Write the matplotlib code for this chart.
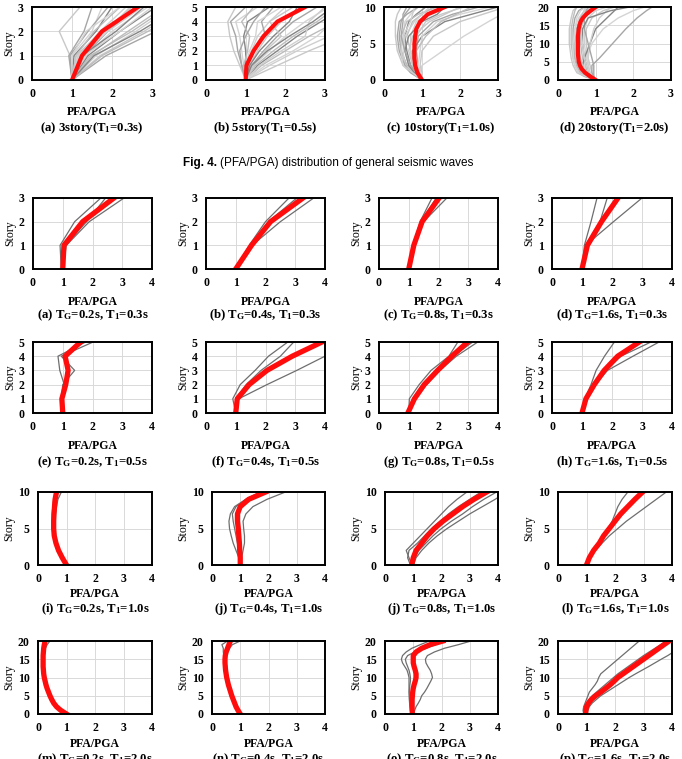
import matplotlib
matplotlib.use('Agg')
import matplotlib.pyplot as plt

# ---- data: Fig. 4 (general seismic waves), PFA/PGA per story ----
S3 = [0, 1, 2, 3]
S5 = [0, 1, 2, 3, 4, 5]
S10 = list(range(11))
S20 = list(range(21))
TOP_C_RUN_STORY = [0, 1, 2, 4, 6, 8, 9, 10]
TOP_D_RUN_STORY = [0, 1, 2, 4, 6, 10, 14, 17, 19, 20]

TOP_A_MEAN = [1.0, 1.25, 1.75, 2.65]
TOP_A_RUNS = [
    [1.0, 0.95, 0.68, 1.2], [1.0, 0.92, 1.3, 1.5], [1.0, 1.0, 1.5, 1.75],
    [1.0, 1.05, 1.6, 2.0], [1.0, 1.1, 1.55, 2.2], [1.0, 1.15, 1.7, 2.35],
    [1.0, 1.2, 1.8, 2.5], [1.0, 1.3, 1.9, 2.6], [1.0, 1.35, 2.0, 2.9],
    [1.0, 1.4, 2.2, 3.1], [1.0, 1.5, 2.4, 3.3], [1.0, 1.6, 2.6, 3.5],
    [1.0, 1.7, 2.8, 3.8], [1.0, 1.85, 3.1, 4.2], [1.0, 1.3, 2.2, 3.0],
    [1.0, 1.25, 2.1, 2.8], [1.0, 1.45, 2.5, 3.4], [1.0, 1.2, 1.9, 2.75],
    [1.0, 1.1, 1.75, 2.6], [1.0, 0.95, 1.4, 1.9], [1.0, 1.0, 1.35, 2.2],
    [1.0, 1.55, 2.7, 3.7], [1.0, 1.75, 2.9, 4.0], [1.0, 1.15, 1.85, 2.45],
]

TOP_B_MEAN = [1.0, 1.02, 1.2, 1.45, 1.8, 2.5]
TOP_B_RUNS = [
    [1.0, 0.85, 0.7, 0.6, 0.55, 0.75], [1.0, 0.9, 0.8, 0.75, 0.62, 1.0],
    [1.0, 0.95, 0.9, 0.85, 0.75, 1.3], [1.0, 1.0, 1.0, 0.95, 1.05, 1.6],
    [1.0, 0.95, 1.05, 1.1, 0.9, 1.2], [1.0, 1.05, 1.15, 1.3, 1.6, 2.0],
    [1.0, 1.1, 1.3, 1.55, 1.9, 2.4], [1.0, 1.15, 1.45, 1.8, 2.2, 2.8],
    [1.0, 1.2, 1.6, 2.0, 2.5, 3.1], [1.0, 1.3, 1.8, 2.3, 2.9, 3.5],
    [1.0, 1.4, 2.0, 2.6, 3.3, 4.0], [1.0, 1.6, 2.3, 3.1, 3.8, 4.5],
    [1.0, 1.8, 2.6, 3.5, 4.3, 5.0], [1.0, 1.05, 1.2, 1.5, 1.4, 1.7],
    [1.0, 1.0, 1.1, 1.25, 1.3, 1.9], [1.0, 1.1, 1.35, 1.7, 2.1, 2.3],
    [1.0, 1.25, 1.7, 2.2, 2.8, 3.3], [1.0, 1.35, 1.9, 2.5, 2.6, 3.0],
    [1.0, 1.2, 1.5, 1.9, 1.6, 2.2], [1.0, 0.9, 0.85, 1.0, 1.2, 1.5],
    [1.0, 1.5, 2.2, 2.8, 3.2, 3.6], [1.0, 1.15, 1.55, 2.1, 2.7, 3.2],
]

TOP_C_MEAN = [1.0, 0.88, 0.82, 0.8, 0.8, 0.8, 0.82, 0.85, 0.95, 1.15, 1.6]
TOP_C_RUNS = [
    [1.0, 0.7, 0.5, 0.35, 0.3, 0.3, 0.35, 0.45], [1.0, 0.75, 0.6, 0.45, 0.4, 0.45, 0.55, 0.7],
    [1.0, 0.8, 0.65, 0.55, 0.5, 0.55, 0.7, 0.9], [1.0, 0.85, 0.7, 0.6, 0.55, 0.65, 0.85, 1.1],
    [1.0, 0.9, 0.8, 0.7, 0.6, 0.75, 1.0, 1.3], [1.0, 0.85, 0.75, 0.7, 0.7, 0.85, 1.2, 1.7],
    [1.0, 0.9, 0.85, 0.8, 0.85, 1.1, 1.5, 2.1], [1.0, 0.95, 0.9, 0.85, 0.9, 1.3, 1.8, 2.5],
    [1.0, 0.95, 1.0, 1.55, 2.1, 2.75, 3.1, 3.4], [1.0, 0.9, 0.8, 0.75, 1.0, 1.6, 2.3, 3.0],
    [1.0, 0.8, 0.6, 0.45, 0.45, 0.6, 0.9, 1.4], [1.0, 0.85, 0.55, 0.5, 0.55, 0.8, 1.0, 1.2],
    [1.0, 0.9, 0.75, 0.65, 0.75, 1.2, 1.6, 2.0], [1.0, 0.7, 0.55, 0.4, 0.35, 0.4, 0.6, 0.9],
    [1.0, 0.95, 0.9, 0.95, 1.0, 1.4, 2.0, 2.8], [1.0, 0.8, 0.65, 0.55, 0.65, 1.0, 1.4, 1.6],
    [1.0, 0.85, 0.8, 0.85, 1.1, 1.5, 1.9, 2.3], [1.0, 0.75, 0.5, 0.45, 0.5, 0.7, 0.75, 0.8],
    [1.0, 1.0, 0.95, 1.0, 1.3, 2.0, 2.6, 3.2], [1.0, 0.85, 0.7, 0.55, 0.45, 0.5, 0.5, 0.6],
]

TOP_D_MEAN = [1.0, 0.85, 0.72, 0.63, 0.58, 0.55, 0.54, 0.53, 0.53, 0.53, 0.53,
              0.53, 0.53, 0.54, 0.55, 0.57, 0.6, 0.66, 0.75, 0.87, 1.0]
TOP_D_RUNS = [
    [1.0, 0.7, 0.5, 0.4, 0.35, 0.3, 0.3, 0.35, 0.4, 0.5],
    [1.0, 0.75, 0.6, 0.5, 0.45, 0.4, 0.4, 0.45, 0.55, 0.7],
    [1.0, 0.8, 0.65, 0.55, 0.5, 0.45, 0.45, 0.55, 0.7, 0.9],
    [1.0, 0.85, 0.7, 0.6, 0.55, 0.5, 0.5, 0.6, 0.8, 1.0],
    [1.0, 0.9, 0.8, 0.7, 0.65, 0.6, 0.6, 0.7, 0.9, 1.1],
    [1.0, 0.9, 0.85, 0.8, 0.75, 0.7, 0.7, 0.8, 1.0, 1.3],
    [1.0, 0.95, 0.9, 0.85, 0.8, 0.75, 0.75, 0.9, 1.2, 1.5],
    [1.0, 0.95, 0.9, 0.9, 1.1, 1.45, 1.8, 2.1, 2.35, 2.5],
    [1.0, 0.85, 0.75, 0.7, 0.75, 0.9, 1.2, 1.6, 2.0, 2.3],
    [1.0, 0.8, 0.7, 0.65, 0.7, 0.85, 1.0, 1.3, 1.5, 1.6],
    [1.0, 0.7, 0.55, 0.45, 0.4, 0.35, 0.35, 0.4, 0.45, 0.5],
    [1.0, 0.9, 0.85, 0.8, 0.8, 0.85, 0.95, 1.1, 1.3, 1.4],
    [1.0, 0.85, 0.75, 0.65, 0.6, 0.55, 0.55, 0.6, 0.75, 0.85],
    [1.0, 0.95, 0.95, 0.95, 0.9, 0.8, 0.7, 0.7, 0.75, 0.8],
    [1.0, 0.75, 0.55, 0.45, 0.4, 0.4, 0.45, 0.5, 0.6, 0.75],
    [1.0, 0.9, 0.8, 0.75, 0.7, 0.65, 0.65, 0.8, 1.4, 1.9],
    [1.0, 0.8, 0.6, 0.5, 0.45, 0.45, 0.5, 0.6, 0.7, 0.75],
    [1.0, 0.85, 0.8, 0.75, 0.7, 0.65, 0.6, 0.65, 0.7, 0.75],
]

TOP_CAPTIONS = ['(a) 3story(T$_1$=0.3s)', '(b) 5story(T$_1$=0.5s)',
                '(c) 10story(T$_1$=1.0s)', '(d) 20story(T$_1$=2.0s)']

# ---- data: grid of T_G / T_1 cases ----
G_A_MEAN = [1.0, 1.04, 1.67, 2.72]
G_A_RUNS = [[0.95, 0.91, 1.4, 2.28], [1.0, 1.08, 1.8, 2.44], [1.0, 1.12, 1.89, 3.06]]
G_B_MEAN = [1.0, 1.53, 2.17, 3.26]
G_B_RUNS = [[1.0, 1.45, 2.0, 2.79], [1.0, 1.5, 2.1, 3.05], [1.0, 1.55, 2.5, 3.62]]
G_C_MEAN = [1.0, 1.17, 1.45, 2.02]
G_C_RUNS = [[1.0, 1.15, 1.38, 1.78], [1.0, 1.18, 1.42, 1.92], [1.0, 1.15, 1.5, 2.28]]
G_D_MEAN = [1.0, 1.18, 1.65, 2.2]
G_D_RUNS = [[1.0, 1.08, 1.3, 1.5], [1.0, 1.12, 1.6, 1.84], [1.0, 1.12, 2.05, 3.0]]

G_E_MEAN = [1.0, 0.97, 1.1, 1.18, 1.08, 1.6]
G_E_RUNS = [[1.0, 0.95, 1.0, 1.4, 0.95, 2.02], [1.0, 0.95, 1.05, 0.9, 0.84, 1.77],
            [1.0, 0.98, 1.1, 1.15, 1.1, 1.7]]
G_F_MEAN = [1.0, 1.05, 1.45, 2.05, 2.9, 3.9]
G_F_RUNS = [[1.0, 0.9, 1.15, 1.65, 2.1, 2.75], [1.0, 1.0, 1.35, 1.85, 2.5, 2.95],
            [1.0, 1.1, 2.05, 3.05, 4.0, 5.0]]
G_G_MEAN = [0.97, 1.19, 1.52, 1.97, 2.45, 2.98]
G_G_RUNS = [[1.0, 1.02, 1.35, 1.75, 2.35, 2.65], [1.0, 1.2, 1.55, 2.0, 2.5, 3.15],
            [1.0, 1.22, 1.6, 2.05, 2.6, 3.32]]
G_H_MEAN = [1.0, 1.13, 1.41, 1.74, 2.19, 2.91]
G_H_RUNS = [[1.0, 1.1, 1.3, 1.47, 1.75, 2.08], [1.0, 1.12, 1.42, 1.8, 2.3, 3.3],
            [1.0, 1.13, 1.45, 1.85, 2.7, 3.57]]

G_I_MEAN = [1.0, 0.85, 0.72, 0.63, 0.57, 0.55, 0.55, 0.56, 0.58, 0.6, 0.65]
G_I_RUNS = [[1.0, 0.87, 0.76, 0.67, 0.62, 0.6, 0.6, 0.62, 0.65, 0.7, 0.82],
            [1.0, 0.83, 0.7, 0.6, 0.53, 0.5, 0.5, 0.5, 0.52, 0.55, 0.6]]
G_J_MEAN = [1.0, 1.0, 0.98, 0.97, 0.95, 0.93, 0.9, 0.9, 1.0, 1.3, 1.9]
G_J_RUNS = [[1.0, 0.95, 0.85, 0.75, 0.68, 0.62, 0.6, 0.65, 0.8, 1.2, 1.7],
            [1.0, 1.05, 1.1, 1.15, 1.15, 1.12, 1.1, 1.2, 1.45, 1.95, 2.6],
            [1.0, 1.0, 0.95, 0.9, 0.85, 0.8, 0.75, 0.72, 0.85, 1.2, 1.75]]
G_K_MEAN = [0.95, 1.0, 1.1, 1.3, 1.5, 1.75, 2.05, 2.4, 2.75, 3.15, 3.6]
G_K_RUNS = [[0.95, 0.85, 0.75, 1.0, 1.25, 1.5, 1.75, 2.0, 2.25, 2.55, 2.9],
            [1.0, 1.05, 1.2, 1.45, 1.7, 2.0, 2.35, 2.75, 3.1, 3.5, 3.95],
            [1.0, 1.1, 1.3, 1.55, 1.85, 2.2, 2.6, 3.0, 3.45, 3.9, 4.3],
            [0.9, 0.8, 0.85, 1.15, 1.4, 1.65, 1.95, 2.25, 2.6, 3.0, 3.4]]
G_L_MEAN = [1.0, 1.1, 1.25, 1.45, 1.6, 1.8, 2.0, 2.2, 2.45, 2.7, 2.97]
G_L_RUNS = [[1.0, 1.1, 1.25, 1.45, 1.6, 1.75, 1.9, 2.0, 2.1, 2.25, 2.45],
            [1.0, 1.1, 1.3, 1.55, 1.8, 2.1, 2.4, 2.75, 3.1, 3.45, 3.8],
            [1.0, 1.12, 1.28, 1.48, 1.65, 1.85, 2.05, 2.28, 2.5, 2.75, 3.05]]

G_M_MEAN = [1.0, 0.8, 0.65, 0.55, 0.48, 0.42, 0.37, 0.32, 0.28, 0.25, 0.22,
            0.2, 0.19, 0.18, 0.18, 0.18, 0.18, 0.19, 0.2, 0.22, 0.25]
G_M_RUNS = [[1.0, 0.82, 0.68, 0.58, 0.5, 0.44, 0.39, 0.34, 0.3, 0.27, 0.24,
             0.22, 0.21, 0.2, 0.2, 0.2, 0.21, 0.23, 0.26, 0.32, 0.42]]
G_N_MEAN = [1.0, 0.92, 0.85, 0.8, 0.75, 0.7, 0.66, 0.62, 0.58, 0.55, 0.52,
            0.5, 0.48, 0.47, 0.46, 0.46, 0.47, 0.5, 0.55, 0.6, 0.65]
G_N_RUNS = [[1.0, 0.93, 0.86, 0.8, 0.75, 0.7, 0.65, 0.6, 0.56, 0.53, 0.5,
             0.48, 0.46, 0.45, 0.44, 0.43, 0.42, 0.4, 0.4, 0.35, 0.55],
            [1.0, 0.92, 0.86, 0.81, 0.77, 0.73, 0.69, 0.65, 0.61, 0.58, 0.55,
             0.53, 0.51, 0.5, 0.5, 0.5, 0.52, 0.56, 0.62, 0.72, 1.0]]
G_O_MEAN = [0.97, 0.96, 0.96, 0.96, 0.96, 0.97, 0.98, 1.0, 1.03, 1.07, 1.1,
            1.1, 1.07, 1.03, 1.0, 1.0, 1.0, 1.1, 1.3, 1.6, 2.05]
G_O_RUNS = [[1.0, 1.05, 1.1, 1.18, 1.25, 1.3, 1.4, 1.48, 1.55, 1.62, 1.68,
             1.65, 1.6, 1.52, 1.45, 1.43, 1.5, 1.75, 2.1, 2.6, 3.05],
            [1.0, 0.95, 0.9, 0.88, 0.87, 0.86, 0.85, 0.85, 0.85, 0.85, 0.85,
             0.82, 0.78, 0.7, 0.62, 0.58, 0.62, 0.75, 0.95, 1.25, 1.57],
            [0.95, 0.9, 0.88, 0.87, 0.86, 0.86, 0.86, 0.87, 0.88, 0.9, 0.9,
             0.88, 0.85, 0.8, 0.75, 0.72, 0.8, 1.05, 1.45, 1.8, 2.0]]
G_P_MEAN = [0.97, 0.98, 1.0, 1.07, 1.17, 1.32, 1.5, 1.67, 1.83, 1.97, 2.1,
            2.28, 2.46, 2.64, 2.82, 3.0, 3.18, 3.36, 3.54, 3.72, 3.9]
G_P_RUNS = [[0.9, 0.88, 0.9, 0.95, 1.0, 1.05, 1.1, 1.2, 1.3, 1.38, 1.43,
             1.5, 1.65, 1.8, 1.95, 2.1, 2.25, 2.4, 2.55, 2.7, 2.85],
            [1.0, 1.05, 1.1, 1.2, 1.35, 1.5, 1.7, 1.9, 2.1, 2.3, 2.5,
             2.72, 2.95, 3.18, 3.4, 3.62, 3.85, 4.05, 4.25, 4.45, 4.65],
            [0.95, 0.9, 0.92, 1.0, 1.1, 1.2, 1.35, 1.5, 1.65, 1.8, 1.95,
             2.1, 2.28, 2.46, 2.64, 2.82, 3.0, 3.2, 3.4, 3.6, 3.8]]

GRID_CAPTIONS = [
    '(a) T$_G$=0.2s, T$_1$=0.3s', '(b) T$_G$=0.4s, T$_1$=0.3s',
    '(c) T$_G$=0.8s, T$_1$=0.3s', '(d) T$_G$=1.6s, T$_1$=0.3s',
    '(e) T$_G$=0.2s, T$_1$=0.5s', '(f) T$_G$=0.4s, T$_1$=0.5s',
    '(g) T$_G$=0.8s, T$_1$=0.5s', '(h) T$_G$=1.6s, T$_1$=0.5s',
    '(i) T$_G$=0.2s, T$_1$=1.0s', '(j) T$_G$=0.4s, T$_1$=1.0s',
    '(j) T$_G$=0.8s, T$_1$=1.0s', '(l) T$_G$=1.6s, T$_1$=1.0s',
    '(m) T$_G$=0.2s, T$_1$=2.0s', '(n) T$_G$=0.4s, T$_1$=2.0s',
    '(o) T$_G$=0.8s, T$_1$=2.0s', '(p) T$_G$=1.6s, T$_1$=2.0s',
]

FIG_W, FIG_H = 682, 759
TOP_GRAYS = ['#c8c8c8', '#a6a6a6', '#d4d4d4', '#858585', '#bcbcbc', '#cfcfcf']

plt.rcParams['font.family'] = 'Liberation Serif'
plt.rcParams['font.weight'] = 'bold'
plt.rcParams['mathtext.default'] = 'regular'


def rect(left, right, top, bottom):
    return [left / FIG_W, 1 - bottom / FIG_H, (right - left) / FIG_W, (bottom - top) / FIG_H]


def draw_panel(fig, box, stories, mean, runs, run_stories, xmax, yticks,
               grays, gray_lw, red_lw):
    ax = fig.add_axes(rect(*box))
    for i, run in enumerate(runs):
        ax.plot(run, run_stories, color=grays[i % len(grays)], lw=gray_lw, zorder=2)
    ax.plot(mean, stories, color='#ff0d0d', lw=red_lw, zorder=3)
    ax.set_xlim(0, xmax)
    ax.set_ylim(0, yticks[-1])
    ax.set_xticks(range(xmax + 1))
    ax.set_yticks(yticks)
    ax.grid(True, color='#d9d9d9', lw=0.7)
    ax.set_axisbelow(True)
    ax.tick_params(length=0, pad=6, labelsize=8.5)
    for sp in ax.spines.values():
        sp.set_linewidth(1.4)
        sp.set_zorder(4)
    ax.set_ylabel('Story', fontsize=8.5, labelpad=2)
    return ax


def add_under(fig, box, y_label, y_cap, caption):
    xc = (box[0] + box[1]) / 2 / FIG_W
    fig.text(xc, 1 - y_label / FIG_H, 'PFA/PGA', ha='center', va='center', fontsize=8.5)
    fig.text(xc, 1 - y_cap / FIG_H, caption, ha='center', va='center', fontsize=9.2)


fig = plt.figure(figsize=(FIG_W / 100, FIG_H / 100), dpi=100)

# top row
top_boxes = [(32, 152, 7, 80), (206, 325, 7, 80), (384, 498, 7, 80), (558, 671, 7, 80)]
top_sets = [
    (S3, TOP_A_MEAN, TOP_A_RUNS, S3, [0, 1, 2, 3]),
    (S5, TOP_B_MEAN, TOP_B_RUNS, S5, [0, 1, 2, 3, 4, 5]),
    (S10, TOP_C_MEAN, TOP_C_RUNS, TOP_C_RUN_STORY, [0, 5, 10]),
    (S20, TOP_D_MEAN, TOP_D_RUNS, TOP_D_RUN_STORY, [0, 5, 10, 15, 20]),
]
for box, (st, mean, runs, rst, yt), cap in zip(top_boxes, top_sets, TOP_CAPTIONS):
    draw_panel(fig, box, st, mean, runs, rst, 3, yt, TOP_GRAYS, 1.0, 3.0)
    add_under(fig, box, 112, 128, cap)

# figure caption between the two figures
t1 = fig.text(183 / FIG_W, 1 - 163 / FIG_H, 'Fig. 4.', family='Liberation Sans',
              weight='bold', fontsize=8.5, va='center', ha='left')
fig.canvas.draw()
bb = t1.get_window_extent(fig.canvas.get_renderer())
fig.text((bb.x1 + 3) / FIG_W, 1 - 163 / FIG_H,
         '(PFA/PGA) distribution of general seismic waves',
         family='Liberation Sans', weight='normal', fontsize=8.5, va='center', ha='left')

# grid of cases
grid_sets = [
    (S3, G_A_MEAN, G_A_RUNS), (S3, G_B_MEAN, G_B_RUNS), (S3, G_C_MEAN, G_C_RUNS), (S3, G_D_MEAN, G_D_RUNS),
    (S5, G_E_MEAN, G_E_RUNS), (S5, G_F_MEAN, G_F_RUNS), (S5, G_G_MEAN, G_G_RUNS), (S5, G_H_MEAN, G_H_RUNS),
    (S10, G_I_MEAN, G_I_RUNS), (S10, G_J_MEAN, G_J_RUNS), (S10, G_K_MEAN, G_K_RUNS), (S10, G_L_MEAN, G_L_RUNS),
    (S20, G_M_MEAN, G_M_RUNS), (S20, G_N_MEAN, G_N_RUNS), (S20, G_O_MEAN, G_O_RUNS), (S20, G_P_MEAN, G_P_RUNS),
]
row_y = [(198, 269, 302, 315), (342, 413, 446, 462), (492, 565, 594, 609), (641, 714, 744, 759)]
row_yticks = [[0, 1, 2, 3], [0, 1, 2, 3, 4, 5], [0, 5, 10], [0, 5, 10, 15, 20]]
cols_narrow = [(33, 152), (206, 325), (379, 498), (552, 672)]
cols_wide = [(38, 152), (212, 325), (385, 498), (558, 672)]

for i, (st, mean, runs) in enumerate(grid_sets):
    r, c = divmod(i, 4)
    top, bottom, y_label, y_cap = row_y[r]
    left, right = (cols_narrow if r < 2 else cols_wide)[c]
    box = (left, right, top, bottom)
    draw_panel(fig, box, st, mean, runs, st, 4, row_yticks[r], ['#6e6e6e'], 0.9, 3.8)
    add_under(fig, box, y_label, y_cap, GRID_CAPTIONS[i])

fig.savefig('out.png', dpi=100)
